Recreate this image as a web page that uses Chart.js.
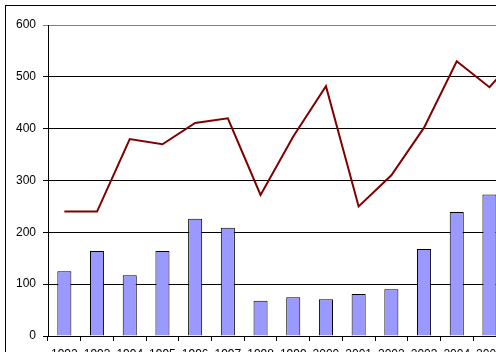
<!DOCTYPE html>
<html>
<head>
<meta charset="utf-8">
<script src="https://cdn.jsdelivr.net/npm/chart.js@4/dist/chart.umd.min.js"></script>
<style>
  html, body { margin: 0; padding: 0; background: #fff; overflow: hidden; width: 496px; height: 352px; }
  #wrap { position: absolute; left: 0; top: 0; width: 560px; height: 400px; }
</style>
</head>
<body>
<div id="wrap"><canvas id="c" width="560" height="400"></canvas></div>
<script>
const categories = ['1992','1993','1994','1995','1996','1997','1998','1999','2000','2001','2002','2003','2004','2005','2006'];
const barValues  = [125, 164, 117, 164, 226, 209, 68, 75, 71, 81, 90, 168, 239, 273, 290];
const lineValues = [240, 240, 380, 370, 411, 420, 272, 385, 482, 250, 310, 402, 530, 480, 550];
const yTicks = [0, 100, 200, 300, 400, 500, 600];

const frame = {
  id: 'frame',
  beforeDraw(chart) {
    const ctx = chart.ctx;
    ctx.save();
    ctx.fillStyle = '#fff';
    ctx.fillRect(0, 0, chart.width, chart.height);
    ctx.strokeStyle = '#000';
    ctx.lineWidth = 1;
    ctx.strokeRect(5.5, 5.5, 800, 800);
    ctx.restore();
  }
};

new Chart(document.getElementById('c'), {
  data: {
    labels: categories,
    datasets: [
      {
        type: 'line',
        data: lineValues,
        borderColor: '#800000',
        borderWidth: 2,
        pointRadius: 0,
        tension: 0,
        fill: false,
        order: 0
      },
      {
        type: 'bar',
        data: barValues,
        backgroundColor: '#9999FF',
        borderColor: '#000000',
        borderWidth: 1,
        barPercentage: 0.43,
        categoryPercentage: 1,
        order: 1
      }
    ]
  },
  options: {
    responsive: false,
    animation: false,
    events: [],
    layout: { padding: { left: 0, top: 25, right: 21.5, bottom: 0 } },
    plugins: { legend: { display: false }, tooltip: { enabled: false } },
    scales: {
      x: {
        offset: true,
        grid: { offset: true, drawOnChartArea: false, drawTicks: true, tickLength: 5, color: '#000' },
        border: { color: '#000', width: 1 },
        ticks: { color: '#000', padding: 6, maxRotation: 0, autoSkip: false, font: { family: 'Liberation Sans', size: 12 } },
        afterFit(s) { s.height = 64; }
      },
      y: {
        min: 0, max: 600,
        afterBuildTicks(s) { s.ticks = yTicks.map(v => ({ value: v })); },
        grid: {
          color: ctx => (ctx.tick && ctx.tick.value === 600) ? '#808080' : '#000',
          tickLength: 5,
          drawTicks: true
        },
        border: { color: '#000', width: 1 },
        ticks: { color: '#000', padding: 7, font: { family: 'Liberation Sans', size: 12 } },
        afterFit(s) { s.width = 48; }
      }
    }
  },
  plugins: [frame]
});
</script>
</body>
</html>
